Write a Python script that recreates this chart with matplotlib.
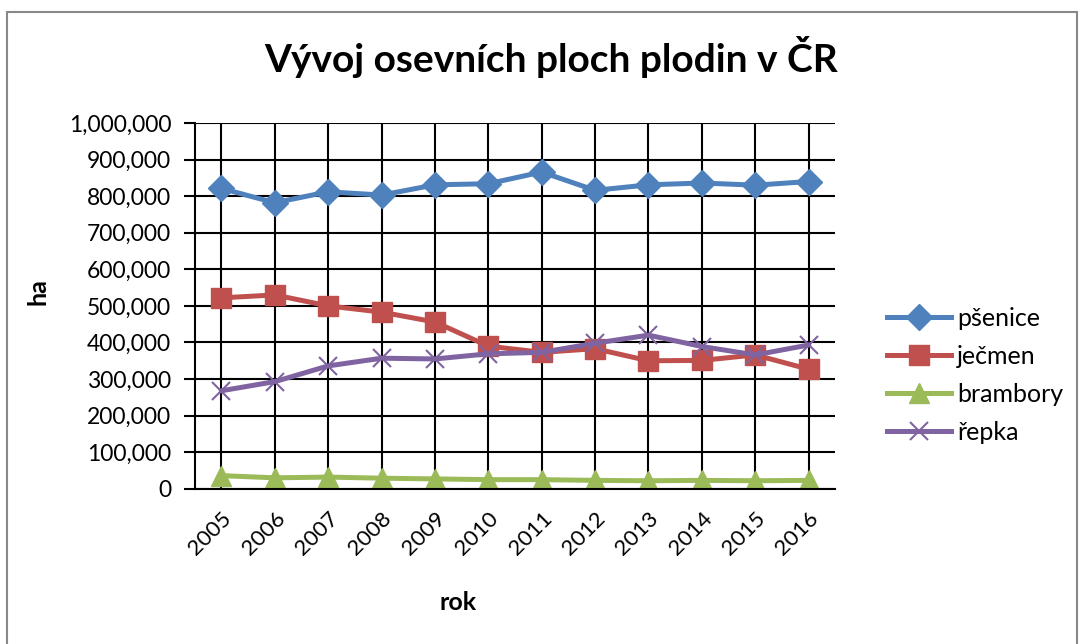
import matplotlib.pyplot as plt
from matplotlib.patches import Rectangle
from matplotlib.ticker import FuncFormatter

years = ['2005', '2006', '2007', '2008', '2009', '2010',
         '2011', '2012', '2013', '2014', '2015', '2016']
psenice = [821000, 782000, 812000, 803000, 831000, 834000,
           866000, 816000, 831000, 836000, 830000, 840000]
jecmen = [522000, 530000, 500000, 483000, 456000, 390000,
          373000, 383000, 350000, 351000, 366000, 327000]
brambory = [36000, 30000, 32000, 29000, 27000, 25000,
            25000, 23000, 22000, 23000, 22000, 23000]
repka = [268000, 293000, 336000, 357000, 355000, 369000,
         373000, 398000, 420000, 389000, 366000, 393000]

plt.rcParams['font.family'] = ['Lato', 'DejaVu Sans']

fig = plt.figure(figsize=(10.82, 6.44), dpi=100)
ax = fig.add_axes([0.180, 0.241, 0.592, 0.568])

x = range(len(years))
ax.plot(x, psenice, color='#4F81BD', lw=3.6, marker='D', ms=13, label='pšenice')
ax.plot(x, jecmen, color='#C0504D', lw=3.6, marker='s', ms=14, label='ječmen')
ax.plot(x, brambory, color='#9BBB59', lw=3.6, marker='^', ms=15, label='brambory')
ax.plot(x, repka, color='#8064A2', lw=3.6, marker='x', ms=13, mew=1.5, label='řepka')

ax.set_xlim(-0.5, len(years) - 0.5)
ax.set_ylim(0, 1000000)
ax.set_yticks(range(0, 1000001, 100000))
ax.yaxis.set_major_formatter(FuncFormatter(lambda v, p: f'{int(v):,}'))
ax.set_xticks(list(x))
ax.set_xticklabels(years, rotation=45, fontsize=16, ha='right',
                   rotation_mode='anchor')
ax.tick_params(axis='y', labelsize=16.5, length=8, width=1.5, color='black', pad=9)
ax.tick_params(axis='x', length=0, pad=14)
ax.grid(True, color='black', lw=1.5)
ax.set_axisbelow(True)
for s in ['top', 'right']:
    ax.spines[s].set_visible(False)
ax.spines['left'].set_linewidth(1.5)
ax.spines['bottom'].set_linewidth(1.5)

fig.text(38 / 1082, 1 - 292 / 644, 'ha', rotation=90, ha='center', va='center',
         fontsize=18, fontweight='bold')
fig.text(458 / 1082, 1 - 603 / 644, 'rok', ha='center', va='center',
         fontsize=18, fontweight='bold')
fig.text(0.509, 0.911, 'Vývoj osevních ploch plodin v ČR', ha='center', va='center',
         fontsize=28, fontweight='bold')

fig.legend(loc='center left', bbox_to_anchor=(0.799, 0.417), frameon=False,
           fontsize=18, handlelength=2.56, handletextpad=0.25, labelspacing=0.6)

fig.patches.append(Rectangle((7 / 1082, -0.01), 1070 / 1082, 0.991, transform=fig.transFigure,
                             fill=False, edgecolor='#888888', lw=1.5))

fig.savefig('out.png', dpi=100)
